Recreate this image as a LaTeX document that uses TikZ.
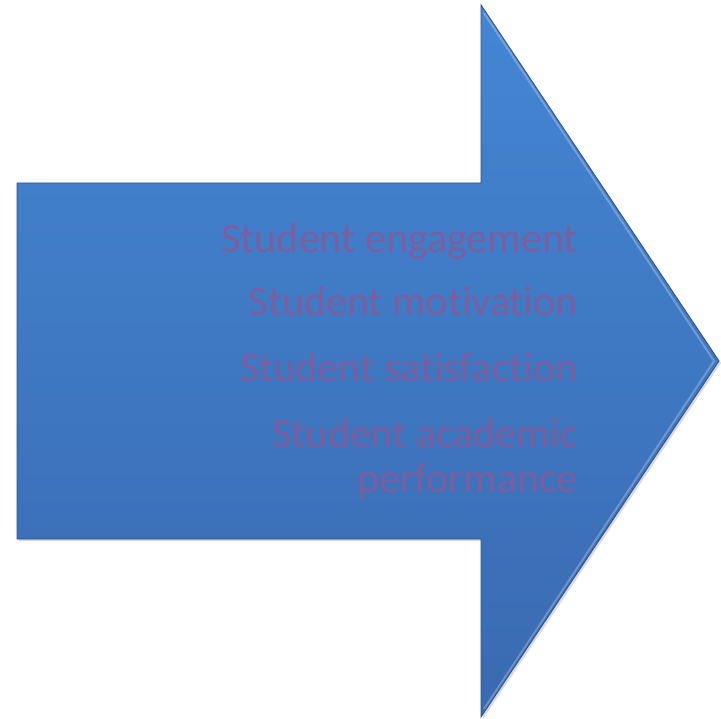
\documentclass[tikz,border=0pt]{standalone}
\usepackage{fontspec}
\setmainfont{Carlito}[Ligatures={NoCommon}]
\usepackage{tikz}
\usetikzlibrary{calc}
\usetikzlibrary{positioning}
\usetikzlibrary{shadows}

\definecolor{arrowtop}{RGB}{68,134,212}
\definecolor{arrowbot}{RGB}{57,106,176}
\definecolor{arrowedge}{RGB}{45,80,135}
\definecolor{labelpurple}{RGB}{124,94,158}

\begin{document}
\begin{tikzpicture}[x=1pt,y=-1pt]
  \tikzstyle{item}=[anchor=base east, inner sep=0pt, text=labelpurple, font=\fontsize{42}{45}\selectfont]
  \useasboundingbox (0,0) rectangle (721,719);

  % corners of the block arrow
  \coordinate (sTL) at (17,183);
  \coordinate (sBL) at (17,539);
  \coordinate (hT)  at (481,5);
  \coordinate (hB)  at (481,717);
  \coordinate (tip) at (719,361);

  \draw[arrowedge, line width=0.8pt, line join=miter,
        top color=arrowtop, bottom color=arrowbot,
        drop shadow={shadow xshift=2pt, shadow yshift=-2pt, opacity=0.25, fill=black!60}]
    (sTL) -- (481,183) -- (hT) -- (tip) -- (hB) -- (481,539) -- (sBL) -- cycle;

  % light rim along the head
  \draw[white, opacity=0.25, line width=2pt] ($(hT)+(3,8)$) -- ($(tip)+(-5,0)$) -- ($(hB)+(3,-8)$);

  \node[item] (eng)  at (578,253) {Student engagement};
  \node[item] (mot)  at (578,316) {Student motivation};
  \node[item] (sat)  at (578,382) {Student satisfaction};
  \node[item] (aca)  at (578,448) {Student academic};
  \node[item] (perf) at (578,493) {performance};
\end{tikzpicture}
\end{document}
